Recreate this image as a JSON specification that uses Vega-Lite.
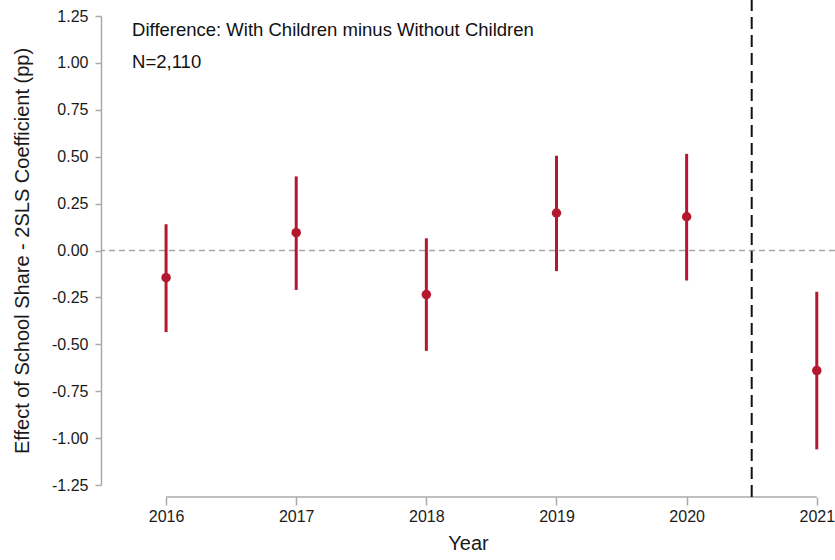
{
  "$schema": "https://vega.github.io/schema/vega-lite/v6.json",
  "autosize": "none",
  "width": 734,
  "height": 469,
  "padding": {"left": 101, "top": 16, "right": 0, "bottom": 75},
  "background": "white",
  "config": {
    "view": {"stroke": null},
    "font": "Liberation Sans",
    "axis": {"labelFont": "Liberation Sans", "titleFont": "Liberation Sans", "labelColor": "#1a1a1a", "titleColor": "#1a1a1a", "titleFontWeight": "normal", "grid": false, "domainColor": "#aaa", "tickColor": "#aaa"}
  },
  "datasets": {
    "est": [
      {"year": 2016, "coef": -0.145, "lo": -0.435, "hi": 0.14},
      {"year": 2017, "coef": 0.095, "lo": -0.21, "hi": 0.395},
      {"year": 2018, "coef": -0.235, "lo": -0.535, "hi": 0.065},
      {"year": 2019, "coef": 0.2, "lo": -0.11, "hi": 0.505},
      {"year": 2020, "coef": 0.18, "lo": -0.16, "hi": 0.515},
      {"year": 2021, "coef": -0.64, "lo": -1.06, "hi": -0.22}
    ],
    "note": [
      {"line1": "Difference: With Children minus Without Children", "line2": "N=2,110"}
    ]
  },
  "layer": [
    {
      "data": {"name": "note"},
      "mark": {"type": "rule", "color": "#a6a6a6", "strokeDash": [6, 4], "strokeWidth": 1.5},
      "encoding": {"y": {"datum": 0, "type": "quantitative"}}
    },
    {
      "data": {"name": "note"},
      "mark": {"type": "rule", "color": "#aaa", "strokeWidth": 1.5},
      "encoding": {
        "x": {"datum": 2016, "type": "quantitative"},
        "x2": {"datum": 2021},
        "y": {"datum": -1.314, "type": "quantitative"}
      }
    },
    {
      "data": {"name": "note"},
      "mark": {"type": "rule", "color": "#111", "strokeDash": [12, 6], "strokeWidth": 2},
      "encoding": {
        "x": {"datum": 2020.5, "type": "quantitative"},
        "y": {"datum": -1.314, "type": "quantitative"},
        "y2": {"datum": 1.335}
      }
    },
    {
      "data": {"name": "est"},
      "mark": {"type": "rule", "color": "#b5172e", "strokeWidth": 3},
      "encoding": {
        "x": {"field": "year", "type": "quantitative",
          "scale": {"domain": [2015.5, 2021.14], "nice": false, "zero": false},
          "axis": {"values": [2016, 2017, 2018, 2019, 2020, 2021], "format": "d", "domain": false, "offset": 12, "tickSize": 8, "tickWidth": 1.5, "labelFontSize": 16, "labelPadding": 3, "title": "Year", "titleFontSize": 20, "titlePadding": 9}},
        "y": {"field": "lo", "type": "quantitative",
          "scale": {"domain": [-1.25, 1.25], "nice": false, "zero": false},
          "axis": {"values": [-1.25, -1, -0.75, -0.5, -0.25, 0, 0.25, 0.5, 0.75, 1, 1.25], "labelExpr": "replace(format(datum.value, '.2f'), '\u2212', '-')", "tickSize": 6, "tickWidth": 1.5, "domainWidth": 1.5, "labelFontSize": 16, "labelPadding": 7, "title": "Effect of School Share - 2SLS Coefficient (pp)", "titleFontSize": 20, "titlePadding": 19}},
        "y2": {"field": "hi"}
      }
    },
    {
      "data": {"name": "est"},
      "mark": {"type": "circle", "color": "#b5172e", "opacity": 1, "size": 90},
      "encoding": {
        "x": {"field": "year", "type": "quantitative"},
        "y": {"field": "coef", "type": "quantitative"}
      }
    },
    {
      "data": {"name": "note"},
      "mark": {"type": "text", "align": "left", "baseline": "middle", "fontSize": 18.5, "fontWeight": "normal", "color": "#111", "font": "Liberation Sans"},
      "encoding": {
        "text": {"field": "line1"},
        "x": {"datum": 2015.739, "type": "quantitative"},
        "y": {"datum": 1.173, "type": "quantitative"}
      }
    },
    {
      "data": {"name": "note"},
      "mark": {"type": "text", "align": "left", "baseline": "middle", "fontSize": 18.5, "fontWeight": "normal", "color": "#111", "font": "Liberation Sans"},
      "encoding": {
        "text": {"field": "line2"},
        "x": {"datum": 2015.739, "type": "quantitative"},
        "y": {"datum": 1.006, "type": "quantitative"}
      }
    }
  ]
}
